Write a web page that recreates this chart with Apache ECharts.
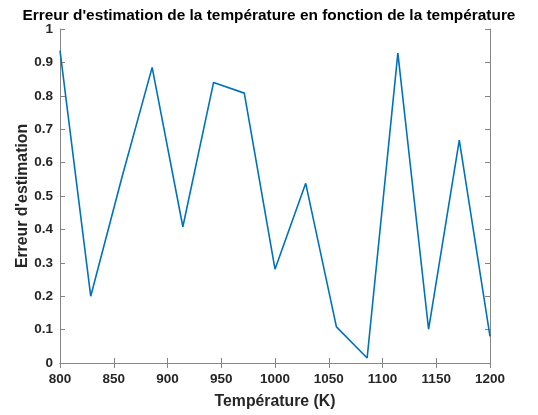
<!DOCTYPE html>
<html>
<head>
<meta charset="utf-8">
<script src="https://cdn.jsdelivr.net/npm/echarts@6/dist/echarts.min.js"></script>
<style>
  html, body { margin: 0; padding: 0; background: #fff; }
  #chart { width: 538px; height: 415px; }
</style>
</head>
<body>
<div id="chart"></div>
<script>
// Temperature samples (K) and estimation error at each one
const temperatures = [800, 828.57, 857.14, 885.71, 914.29, 942.86, 971.43, 1000,
                      1028.57, 1057.14, 1085.71, 1114.29, 1142.86, 1171.43, 1200];
const errors = [0.935, 0.2, 0.55, 0.885, 0.408, 0.84, 0.808, 0.281,
                0.538, 0.108, 0.015, 0.928, 0.101, 0.667, 0.08];

const xTicks = [800, 850, 900, 950, 1000, 1050, 1100, 1150, 1200];
const yTicks = [0, 0.1, 0.2, 0.3, 0.4, 0.5, 0.6, 0.7, 0.8, 0.9, 1];

const titleText = "Erreur d'estimation de la température en fonction de la température";
const xName = 'Température (K)';
const yName = "Erreur d'estimation";

const FONT = '"Liberation Sans", Arial, Helvetica, sans-serif';
const boxColor = '#858585';
const labelColor = '#262626';

const points = temperatures.map((t, i) => [t, errors[i]]);

function axisBase(extra) {
  return Object.assign({
    axisLine: { show: true, lineStyle: { color: boxColor, width: 1 } },
    axisTick: { show: true, inside: true, length: 5, lineStyle: { color: boxColor, width: 1 } },
    splitLine: { show: false }
  }, extra);
}

const chart = echarts.init(document.getElementById('chart'), null, { renderer: 'canvas' });
chart.setOption({
  animation: false,
  backgroundColor: '#ffffff',
  title: {
    text: titleText,
    left: 'center',
    top: 3,
    textStyle: { fontFamily: FONT, fontSize: 15.4, fontWeight: 'bold', color: '#000000' }
  },
  grid: { left: 60, right: 48, top: 29, bottom: 51, containLabel: false },
  xAxis: [
    axisBase({
      type: 'value', position: 'bottom',
      min: xTicks[0], max: xTicks[xTicks.length - 1], interval: 50,
      name: xName, nameLocation: 'middle', nameGap: 31, nameMoveOverlap: false,
      nameTextStyle: { fontFamily: FONT, fontSize: 15.8, fontWeight: 'bold', color: labelColor },
      axisLabel: { fontFamily: FONT, fontSize: 13.5, fontWeight: 'bold', color: labelColor, margin: 9,
                   formatter: v => String(v) }
    }),
    axisBase({
      type: 'value', position: 'top',
      min: xTicks[0], max: xTicks[xTicks.length - 1], interval: 50,
      axisLabel: { show: false }
    })
  ],
  yAxis: [
    axisBase({
      type: 'value', position: 'left',
      min: yTicks[0], max: yTicks[yTicks.length - 1], interval: 0.1,
      name: yName, nameLocation: 'middle', nameGap: 29, nameMoveOverlap: false,
      nameTextStyle: { fontFamily: FONT, fontSize: 15.8, fontWeight: 'bold', color: labelColor },
      axisLabel: { fontFamily: FONT, fontSize: 13.5, fontWeight: 'bold', color: labelColor, margin: 7,
                   formatter: v => String(Math.round(v * 10) / 10) }
    }),
    axisBase({
      type: 'value', position: 'right',
      min: yTicks[0], max: yTicks[yTicks.length - 1], interval: 0.1,
      axisLabel: { show: false }
    })
  ],
  series: [{
    type: 'line',
    xAxisIndex: 0,
    yAxisIndex: 0,
    data: points,
    showSymbol: false,
    lineStyle: { color: '#0072BD', width: 1.6 },
    clip: true
  }]
});
</script>
</body>
</html>
